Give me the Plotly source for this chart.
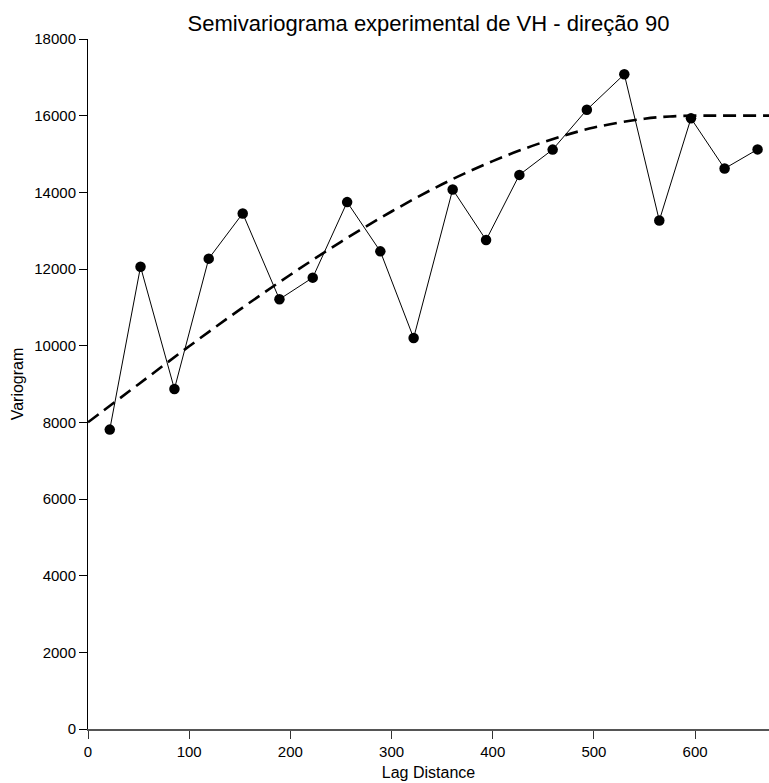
import plotly.graph_objects as go

# Experimental semivariogram
lag = [21.5, 51.9, 85.4, 119.3, 152.9, 189.2, 222.1, 256.1, 288.9, 321.8,
       360.4, 393.4, 426.3, 459.2, 493.0, 530.0, 564.6, 595.9, 629.1, 661.7]
gamma = [7810, 12060, 8870, 12270, 13450, 11210, 11775, 13745, 12460, 10200,
         14075, 12755, 14455, 15115, 16155, 17080, 13265, 15930, 14620, 15120]

# Fitted model curve
model_lag = [0, 50, 100, 150, 200, 250, 300, 350, 400, 450, 500, 550, 575, 600, 625, 673]
model_gamma = [8000, 8995, 9985, 10940, 11850, 12710, 13500, 14210, 14815, 15310,
               15690, 15920, 15980, 16000, 16000, 16000]

x_ticks = [0, 100, 200, 300, 400, 500, 600]
y_ticks = [0, 2000, 4000, 6000, 8000, 10000, 12000, 14000, 16000, 18000]

fig = go.Figure()
fig.add_trace(go.Scatter(
    x=model_lag, y=model_gamma, mode="lines", line_shape="spline",
    line=dict(color="black", width=2.6, dash="13px,7px"),
    hoverinfo="skip", showlegend=False,
))
fig.add_trace(go.Scatter(
    x=lag, y=gamma, mode="lines+markers",
    line=dict(color="black", width=1),
    marker=dict(color="black", size=10.5),
    showlegend=False,
))

font_family = "Liberation Sans, Arial, sans-serif"
fig.update_layout(
    width=769, height=783,
    margin=dict(l=88, r=0, t=39, b=54),
    paper_bgcolor="white", plot_bgcolor="white",
    font=dict(family=font_family, size=15, color="black"),
    title=dict(text="Semivariograma experimental de VH - direção 90",
               xref="paper", x=0.5, xanchor="center",
               yref="container", y=1 - 23 / 783, yanchor="middle",
               font=dict(size=22, color="black")),
    xaxis=dict(range=[0, 673], tickvals=x_ticks, ticktext=[str(v) for v in x_ticks],
               showgrid=False, zeroline=False,
               showline=True, linecolor="#555", linewidth=2,
               ticks="outside", ticklen=8, tickcolor="#333", tickwidth=1,
               tickfont=dict(size=15),
               title=dict(text="Lag Distance", standoff=8, font=dict(size=16))),
    yaxis=dict(range=[0, 18000], tickvals=y_ticks, ticktext=[str(v) for v in y_ticks],
               showgrid=False, zeroline=False,
               showline=True, linecolor="black", linewidth=1,
               ticks="outside", ticklen=8, tickcolor="black", tickwidth=1,
               tickfont=dict(size=15),
               title=dict(text="Variogram", standoff=6, font=dict(size=16))),
)

fig.write_html("out.html")
